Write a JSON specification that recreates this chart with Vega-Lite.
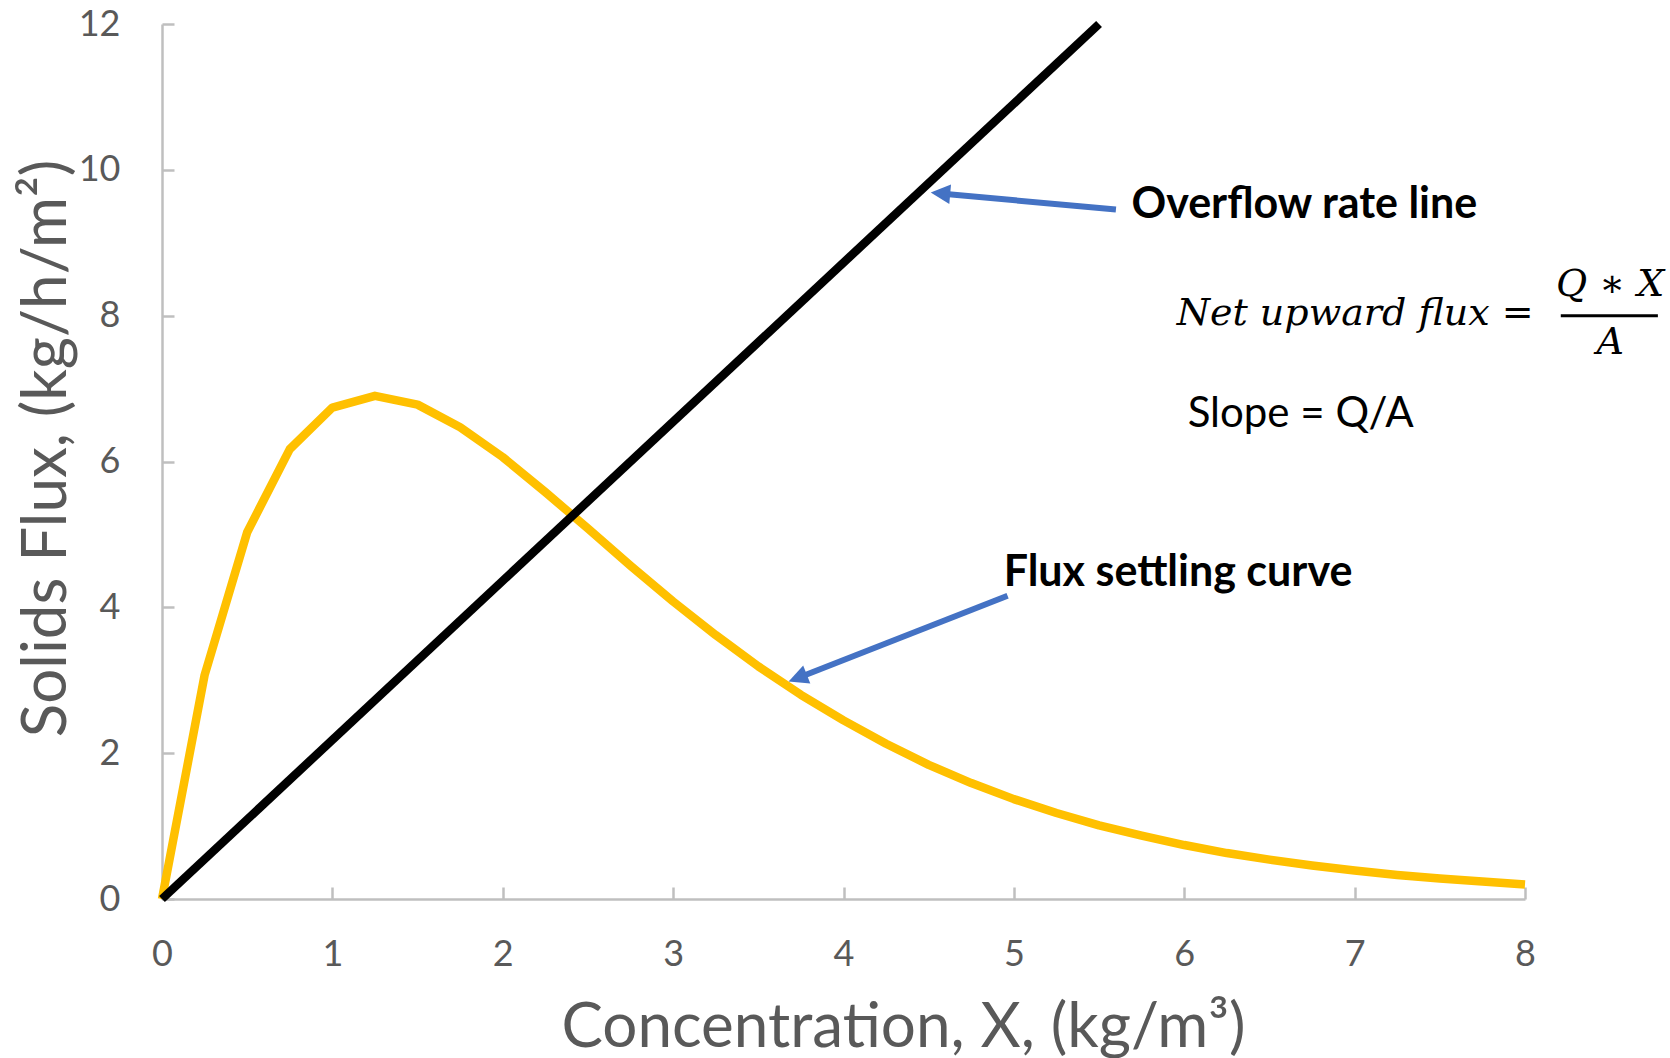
{
  "$schema": "https://vega.github.io/schema/vega-lite/v6.json",
  "width": 1363,
  "height": 875,
  "autosize": "none",
  "padding": {"left": 162, "top": 24, "right": 145, "bottom": 159},
  "background": "white",
  "config": {
    "view": {"stroke": null},
    "font": "Lato",
    "axis": {
      "grid": false,
      "domainColor": "#BFBFBF",
      "domainWidth": 2.5,
      "tickColor": "#BFBFBF",
      "tickWidth": 2.5,
      "tickSize": -12,
      "labelFlush": false,
      "labelOverlap": false,
      "format": "d",
      "labelColor": "#595959",
      "labelFont": "Lato",
      "labelFontSize": 36,
      "labelFontWeight": "normal",
      "titleColor": "#595959",
      "titleFont": "Lato",
      "titleFontSize": 62,
      "titleFontWeight": "normal"
    }
  },
  "datasets": {
    "settling": [
      {"X": 0, "flux": 0},
      {"X": 0.25, "flux": 3.07},
      {"X": 0.5, "flux": 5.03},
      {"X": 0.75, "flux": 6.17},
      {"X": 1.0, "flux": 6.74},
      {"X": 1.25, "flux": 6.9},
      {"X": 1.5, "flux": 6.78},
      {"X": 1.75, "flux": 6.47},
      {"X": 2.0, "flux": 6.06},
      {"X": 2.25, "flux": 5.58},
      {"X": 2.5, "flux": 5.08},
      {"X": 2.75, "flux": 4.57},
      {"X": 3.0, "flux": 4.08},
      {"X": 3.25, "flux": 3.62},
      {"X": 3.5, "flux": 3.19},
      {"X": 3.75, "flux": 2.8},
      {"X": 4.0, "flux": 2.45},
      {"X": 4.25, "flux": 2.13},
      {"X": 4.5, "flux": 1.84},
      {"X": 4.75, "flux": 1.59},
      {"X": 5.0, "flux": 1.37},
      {"X": 5.25, "flux": 1.18},
      {"X": 5.5, "flux": 1.01},
      {"X": 5.75, "flux": 0.87},
      {"X": 6.0, "flux": 0.74},
      {"X": 6.25, "flux": 0.63},
      {"X": 6.5, "flux": 0.54},
      {"X": 6.75, "flux": 0.46},
      {"X": 7.0, "flux": 0.39},
      {"X": 7.25, "flux": 0.33},
      {"X": 7.5, "flux": 0.28},
      {"X": 7.75, "flux": 0.24},
      {"X": 8.0, "flux": 0.2}
    ],
    "overflow": [
      {"X": 0, "flux": 0},
      {"X": 5.5, "flux": 12}
    ],
    "pointers": [
      {"name": "overflow", "x0": 5.599, "y0": 9.455, "x1": 4.569, "y1": 9.676},
      {"name": "settling", "x0": 4.963, "y0": 4.158, "x1": 3.731, "y1": 3.03}
    ],
    "callouts": [
      {"text": "Overflow rate line", "x": 5.69, "y": 9.34},
      {"text": "Flux settling curve", "x": 4.94, "y": 4.29}
    ],
    "notes": [
      {"text": "Slope = Q/A", "x": 6.02, "y": 6.48}
    ],
    "formulaLeft": [
      {"text": "Net upward flux =", "x": 5.956, "y": 7.87}
    ],
    "formulaFrac": [
      {"text": "Q ∗ X", "x": 8.5, "y": 8.27},
      {"text": "A", "x": 8.5, "y": 7.48}
    ],
    "fracBar": [
      {"x0": 8.21, "x1": 8.78, "y": 8.0}
    ]
  },
  "layer": [
    {
      "data": {"name": "settling"},
      "mark": {"type": "line", "color": "#FFC000", "strokeWidth": 8.5, "strokeJoin": "round", "strokeCap": "butt"},
      "encoding": {
        "x": {
          "field": "X", "type": "quantitative",
          "scale": {"domain": [0, 8], "nice": false},
          "axis": {"values": [0, 1, 2, 3, 4, 5, 6, 7, 8], "labelPadding": 50, "title": "Concentration, X, (kg/m³)", "titleX": 741, "titleY": 147, "titleBaseline": "alphabetic", "titleAnchor": null}
        },
        "y": {
          "field": "flux", "type": "quantitative",
          "scale": {"domain": [0, 12], "nice": false},
          "axis": {"values": [0, 2, 4, 6, 8, 10, 12], "labelPadding": 54, "title": "Solids Flux, (kg/h/m²)", "titleX": -97, "titleY": 424, "titleBaseline": "alphabetic", "titleAngle": -90}
        }
      }
    },
    {
      "data": {"name": "overflow"},
      "mark": {"type": "line", "color": "#000000", "strokeWidth": 8.5, "strokeCap": "butt"},
      "encoding": {
        "x": {"field": "X", "type": "quantitative"},
        "y": {"field": "flux", "type": "quantitative"}
      }
    },
    {
      "data": {"name": "pointers"},
      "mark": {"type": "rule", "color": "#4472C4", "strokeWidth": 6},
      "encoding": {
        "x": {"field": "x0", "type": "quantitative"},
        "y": {"field": "y0", "type": "quantitative"},
        "x2": {"field": "x1"},
        "y2": {"field": "y1"}
      }
    },
    {
      "data": {"name": "pointers"},
      "transform": [{"filter": "datum.name === 'overflow'"}],
      "mark": {"type": "point", "shape": "M0,-1L1,1L-1,1Z", "filled": true, "color": "#4472C4", "opacity": 1, "size": 380, "angle": 275},
      "encoding": {
        "x": {"field": "x1", "type": "quantitative"},
        "y": {"field": "y1", "type": "quantitative"}
      }
    },
    {
      "data": {"name": "pointers"},
      "transform": [{"filter": "datum.name === 'settling'"}],
      "mark": {"type": "point", "shape": "M0,-1L1,1L-1,1Z", "filled": true, "color": "#4472C4", "opacity": 1, "size": 380, "angle": 248.6},
      "encoding": {
        "x": {"field": "x1", "type": "quantitative"},
        "y": {"field": "y1", "type": "quantitative"}
      }
    },
    {
      "data": {"name": "callouts"},
      "mark": {"type": "text", "font": "Lato", "fontWeight": "bold", "fontSize": 43, "color": "#000000", "align": "left", "baseline": "alphabetic"},
      "encoding": {
        "x": {"field": "x", "type": "quantitative"},
        "y": {"field": "y", "type": "quantitative"},
        "text": {"field": "text"}
      }
    },
    {
      "data": {"name": "notes"},
      "mark": {"type": "text", "font": "Lato", "fontSize": 42, "color": "#000000", "align": "left", "baseline": "alphabetic"},
      "encoding": {
        "x": {"field": "x", "type": "quantitative"},
        "y": {"field": "y", "type": "quantitative"},
        "text": {"field": "text"}
      }
    },
    {
      "data": {"name": "formulaLeft"},
      "mark": {"type": "text", "font": "DejaVu Serif", "fontStyle": "italic", "fontSize": 38, "color": "#000000", "align": "left", "baseline": "alphabetic"},
      "encoding": {
        "x": {"field": "x", "type": "quantitative"},
        "y": {"field": "y", "type": "quantitative"},
        "text": {"field": "text"}
      }
    },
    {
      "data": {"name": "formulaFrac"},
      "mark": {"type": "text", "font": "DejaVu Serif", "fontStyle": "italic", "fontSize": 38, "color": "#000000", "align": "center", "baseline": "alphabetic"},
      "encoding": {
        "x": {"field": "x", "type": "quantitative"},
        "y": {"field": "y", "type": "quantitative"},
        "text": {"field": "text"}
      }
    },
    {
      "data": {"name": "fracBar"},
      "mark": {"type": "rule", "color": "#000000", "strokeWidth": 3},
      "encoding": {
        "x": {"field": "x0", "type": "quantitative"},
        "x2": {"field": "x1"},
        "y": {"field": "y", "type": "quantitative"}
      }
    }
  ]
}
